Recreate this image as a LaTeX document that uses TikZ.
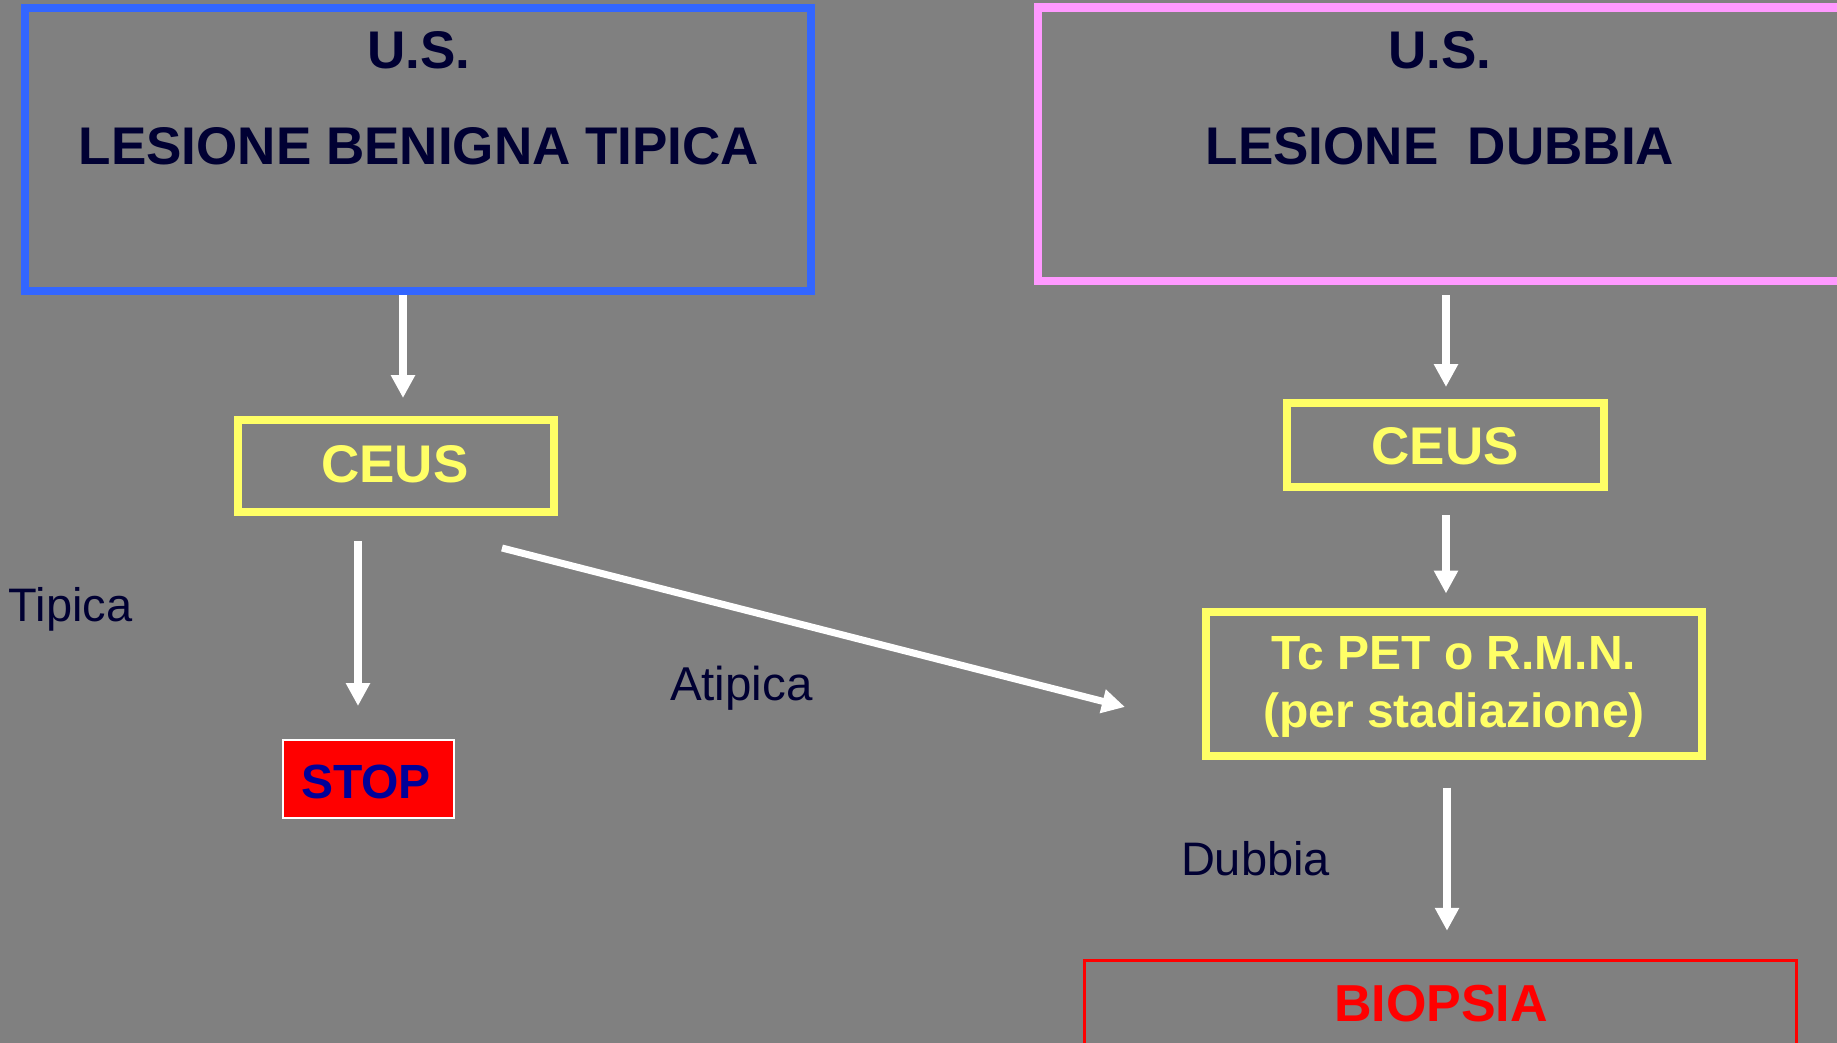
\documentclass[tikz,border=0pt]{standalone}
\usepackage{fontspec}
\setmainfont{Liberation Sans}
\usetikzlibrary{arrows.meta}
\definecolor{bg}{HTML}{808080}
\definecolor{navy}{HTML}{000033}
\definecolor{boxblue}{HTML}{3366FF}
\definecolor{boxpink}{HTML}{FF99FF}
\definecolor{boxyellow}{HTML}{FFFF66}
\definecolor{stopblue}{HTML}{000099}
\definecolor{pured}{HTML}{FF0000}
\newcommand\myfs[1]{\fontsize{#1}{#1}\selectfont}
\begin{document}
\begin{tikzpicture}[x=1pt,y=-1pt,
  frame/.style={draw, rectangle, inner sep=0pt},
  txt/.style={inner sep=0pt, outer sep=0pt},
  arr/.style={draw=white, line width=7.5pt, -{Triangle[width=23pt,length=23pt]}}]
\useasboundingbox (0,0) rectangle (1837,1043);
\fill[bg] (0,0) rectangle (1837,1043);

% boxes
\node[frame, draw=boxblue, line width=8pt, minimum width=786pt, minimum height=283pt] (usL) at (418,149.5) {};
\node[frame, draw=boxpink, line width=8.4pt, minimum width=804pt, minimum height=273.5pt] (usR) at (1440,144.25) {};
\node[frame, draw=boxyellow, line width=8pt, minimum width=316.5pt, minimum height=92pt] (ceusL) at (395.75,466) {};
\node[frame, draw=boxyellow, line width=8pt, minimum width=317pt, minimum height=84pt] (ceusR) at (1445,445) {};
\node[frame, draw=boxyellow, line width=8pt, minimum width=496pt, minimum height=144pt] (tc) at (1454,683.5) {};
\node[frame, draw=white, fill=pured, line width=2pt, minimum width=171pt, minimum height=78pt] (stop) at (368.5,779) {};
\node[frame, draw=pured, line width=3pt, minimum width=712pt, minimum height=139.5pt] (biop) at (1440.5,1030) {};

% texts
\node[txt, anchor=base, text=navy] (usL1) at (419,69) {\myfs{53}\bfseries U.S.};
\node[txt, anchor=base, text=navy] (usL2) at (419,165) {\myfs{53}\bfseries LESIONE BENIGNA TIPICA};
\node[txt, anchor=base, text=navy] (usR1) at (1440,69) {\myfs{53}\bfseries U.S.};
\node[txt, anchor=base, text=navy] (usR2) at (1440,165) {\myfs{53}\bfseries LESIONE\ \ DUBBIA};
\node[txt, anchor=base, text=boxyellow] (ceusLt) at (395,482) {\myfs{53}\bfseries CEUS};
\node[txt, anchor=base, text=boxyellow] (ceusRt) at (1445,464) {\myfs{53}\bfseries CEUS};
\node[txt, anchor=base, text=boxyellow] (tc1) at (1454,669) {\myfs{48}\bfseries Tc PET o R.M.N.};
\node[txt, anchor=base, text=boxyellow] (tc2) at (1454,727) {\myfs{48}\bfseries (per stadiazione)};
\node[txt, anchor=base, text=stopblue] (stopt) at (366,798) {\myfs{48}\bfseries STOP};
\node[txt, anchor=base, text=pured] (biopt) at (1441,1021) {\myfs{52}\bfseries BIOPSIA};
\node[txt, anchor=base west, text=navy] (tipica) at (9,621) {\myfs{47}Tipica};
\node[txt, anchor=base west, text=navy] (atipica) at (670,700) {\myfs{47.5}Atipica};
\node[txt, anchor=base west, text=navy] (dubbia) at (1181,875) {\myfs{47}Dubbia};

% connectors
\draw[arr, shorten >=18pt] ([xshift=-15pt]usL.south) -- ([xshift=-15pt]usL.south |- ceusL.north);
\draw[arr, shorten <=25pt, shorten >=33pt] ([xshift=-37.75pt]ceusL.south) -- ([xshift=-37.75pt]ceusL.south |- stop.north);
\coordinate (atStart) at (502,548);
\coordinate (atEnd) at (1125,707);
\draw[arr, line width=7pt] (atStart) -- (atEnd);
\draw[arr, shorten <=10pt, shorten >=12pt] ([xshift=6pt]usR.south) -- ([xshift=6pt]usR.south |- ceusR.north);
\draw[arr, shorten <=24pt, shorten >=14pt] ([xshift=1pt]ceusR.south) -- ([xshift=1pt]ceusR.south |- tc.north);
\draw[arr, shorten <=28pt, shorten >=28pt] ([xshift=-7pt]tc.south) -- ([xshift=-7pt]tc.south |- biop.north);
\end{tikzpicture}
\end{document}
